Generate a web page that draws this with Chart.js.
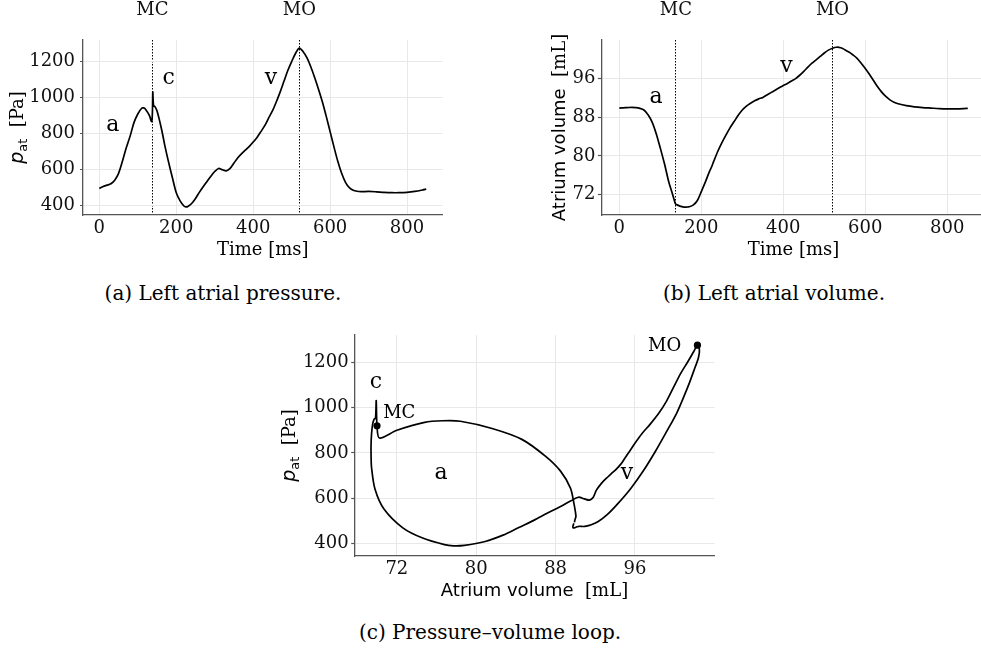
<!DOCTYPE html>
<html>
<head>
  <title>Left atrial pressure and volume</title>
  <script src="https://cdn.jsdelivr.net/npm/chart.js"></script>
  <style>
    body { margin: 0; width: 981px; height: 653px; overflow: hidden; background: #fff; position: relative; }
    canvas { position: absolute; }
    .cap { position: absolute; font-family: "DejaVu Serif"; font-size: 20px; line-height: 24px; color: #000; text-align: center; white-space: nowrap; }
  </style>
</head>
<body>
  <canvas id="pressureChart" width="460" height="275" style="left:0px;top:0px"></canvas>
  <canvas id="volumeChart" width="510" height="275" style="left:490px;top:0px"></canvas>
  <canvas id="loopChart" width="470" height="300" style="left:270px;top:320px"></canvas>
  <div class="cap" style="left:23px;width:400px;top:281px">(a) Left atrial pressure.</div>
  <div class="cap" style="left:574px;width:400px;top:281px">(b) Left atrial volume.</div>
  <div class="cap" style="left:290px;width:400px;top:620px">(c) Pressure–volume loop.</div>
  <script>
    // one cardiac cycle
    const time = [0, 10, 20, 30, 40, 50, 60, 70, 80, 90,
      100, 110, 115, 120, 130, 136, 138, 139, 141, 145,
      150, 155, 160, 165, 170, 180, 190, 200, 210, 220,
      225, 230, 240, 250, 260, 270, 280, 290, 300, 310,
      320, 330, 340, 350, 360, 370, 380, 390, 400, 410,
      420, 430, 440, 450, 460, 470, 480, 490, 500, 510,
      520, 530, 540, 550, 560, 570, 580, 590, 600, 610,
      620, 630, 640, 650, 660, 670, 680, 700, 720, 740,
      760, 780, 800, 820, 840, 850];
    const pressure = [494, 505, 512, 520, 540, 578, 645, 720, 785, 860,
      908, 940, 942, 935, 900, 866, 920, 1031, 955, 948,
      925, 885, 840, 790, 735, 640, 553, 470, 425, 396,
      391, 393, 410, 438, 472, 503, 533, 562, 588, 605,
      598, 592, 605, 635, 665, 688, 708, 728, 752, 778,
      810, 843, 885, 925, 975, 1030, 1090, 1150, 1200, 1245,
      1275, 1255, 1220, 1170, 1110, 1045, 975, 895, 810, 725,
      645, 578, 528, 498, 484, 478, 476, 477, 475, 472,
      470, 470, 472, 477, 485, 490];
    const volume = [89.9, 89.95, 90.0, 90.05, 90.0, 89.85, 89.5, 88.5, 87.0, 84.6,
      81.6, 78.4, 76.6, 74.8, 72.0, 70.25, 70.0, 69.92, 69.85, 69.7,
      69.55, 69.45, 69.4, 69.4, 69.45, 69.8, 70.7, 72.6, 74.6, 76.8,
      77.7, 78.8, 80.9, 82.7, 84.3, 85.8, 87.1, 88.4, 89.5, 90.3,
      90.9, 91.4, 91.8, 92.1, 92.6, 93.1, 93.6, 94.1, 94.6, 95.0,
      95.5, 96.0, 96.7, 97.5, 98.4, 99.2, 99.9, 100.6, 101.3, 101.9,
      102.3, 102.5, 102.4, 102.0, 101.5, 100.9, 100.2, 99.2, 98.1, 96.9,
      95.6, 94.3, 93.2, 92.3, 91.6, 91.1, 90.8, 90.4, 90.15, 90.0,
      89.9, 89.8, 89.75, 89.75, 89.8, 89.85];

    const timeTicks = [0, 200, 400, 600, 800];
    const pressureTicks = [400, 600, 800, 1000, 1200];
    const volumeTicks = [72, 80, 88, 96];
    const valveTimes = [138, 520];
    const valveLabels = ['MC', 'MO'];
    const timeRange = [-42.5, 892.5];
    const pressureRange = [346, 1320];
    const volumeRange = [67.75, 104];

    const serif = '"DejaVu Serif"';
    const sans = '"DejaVu Sans"';
    const gridColor = '#e8e8e8';
    const spineColor = '#555';

    // axis titles with mixed fonts and the a / c / v marks
    const notesPlugin = {
      id: 'notes',
      afterDatasetsDraw(chart, args, opts) {
        const ctx = chart.ctx, area = chart.chartArea;
        const xs = chart.scales.x, ys = chart.scales.y;
        ctx.save();
        ctx.fillStyle = '#000';
        (opts.marks || []).forEach(m => {
          ctx.font = m[3] + 'px ' + serif;
          ctx.textAlign = m[4] || 'center';
          ctx.textBaseline = 'middle';
          ctx.fillText(m[0], xs.getPixelForValue(m[1]), ys.getPixelForValue(m[2]));
        });
        (opts.titles || []).forEach(t => {
          let total = 0;
          t.parts.forEach(p => { ctx.font = p[1]; total += ctx.measureText(p[0]).width; });
          ctx.save();
          if (t.side === 'left') {
            ctx.translate(area.left - t.gap, (area.top + area.bottom) / 2);
            ctx.rotate(-Math.PI / 2);
          } else {
            ctx.translate((area.left + area.right) / 2, area.bottom + t.gap);
          }
          ctx.textAlign = 'left';
          ctx.textBaseline = 'alphabetic';
          let cx = -total / 2;
          t.parts.forEach(p => {
            ctx.font = p[1];
            ctx.fillText(p[0], cx, p[2]);
            cx += ctx.measureText(p[0]).width;
          });
          ctx.restore();
        });
        ctx.restore();
      }
    };

    function fixedTicks(values) {
      return s => { s.ticks = values.map(v => ({ value: v })); };
    }
    const plain = v => String(v);

    function valueAxis(range, ticks, width, tickLen, pad) {
      return {
        type: 'linear', min: range[0], max: range[1],
        afterBuildTicks: fixedTicks(ticks),
        afterFit: s => { s.width = width; },
        grid: { color: gridColor, lineWidth: 1, tickColor: spineColor, tickLength: tickLen, tickWidth: 1.2 },
        border: { color: spineColor, width: 1.3 },
        ticks: { font: { family: serif, size: 18 }, color: '#111', padding: pad, autoSkip: false, callback: plain }
      };
    }

    function bottomAxis(range, ticks, height) {
      return {
        type: 'linear', position: 'bottom', min: range[0], max: range[1],
        afterBuildTicks: fixedTicks(ticks),
        afterFit: s => { s.height = height; },
        grid: { color: gridColor, lineWidth: 1, drawTicks: false },
        border: { color: spineColor, width: 1.3 },
        ticks: { font: { family: serif, size: 18 }, color: '#111', padding: 3, autoSkip: false, callback: plain }
      };
    }

    function valveAxis() {
      return {
        type: 'linear', axis: 'x', position: 'top', min: timeRange[0], max: timeRange[1],
        afterBuildTicks: fixedTicks(valveTimes),
        afterFit: s => { s.height = 40; },
        grid: { color: '#000', lineWidth: 1, drawTicks: false },
        border: { display: false, dash: [1.5, 1.5] },
        ticks: { font: { family: serif, size: 18 }, color: '#111', padding: 19, autoSkip: false,
          callback: (v, i) => valveLabels[i] }
      };
    }

    const curve = {
      borderColor: '#000', borderWidth: 1.7, pointRadius: 0, fill: false,
      tension: 0.3, xAxisID: 'x', yAxisID: 'y'
    };

    const common = {
      animation: false, responsive: false, events: []
    };

    new Chart(document.getElementById('pressureChart'), {
      type: 'line',
      data: {
        datasets: [Object.assign({
          data: time.map((t, i) => ({ x: t, y: pressure[i] }))
        }, curve)]
      },
      options: Object.assign({
        layout: { padding: { left: 0, right: 17.4, top: 0, bottom: 0 } },
        plugins: {
          legend: { display: false }, tooltip: { enabled: false },
          notes: {
            marks: [['a', 35, 846, 22], ['c', 180, 1105, 22], ['v', 446, 1105, 22]],
            titles: [
              { side: 'left', gap: 60, parts: [['p', 'italic 19px ' + sans, 0], ['at', '13px ' + sans, 4], ['  [Pa]', '18px ' + serif, 0]] },
              { side: 'bottom', gap: 39.5, parts: [['Time [ms]', '18px ' + serif, 0]] }
            ]
          }
        },
        scales: {
          x: bottomAxis(timeRange, timeTicks, 60),
          x2: valveAxis(),
          y: valueAxis(pressureRange, pressureTicks, 83, 3, 5)
        }
      }, common),
      plugins: [notesPlugin]
    });

    new Chart(document.getElementById('volumeChart'), {
      type: 'line',
      data: {
        datasets: [Object.assign({
          data: time.map((t, i) => ({ x: t, y: volume[i] }))
        }, curve)]
      },
      options: Object.assign({
        layout: { padding: { left: 0, right: 14.8, top: 0, bottom: 0 } },
        plugins: {
          legend: { display: false }, tooltip: { enabled: false },
          notes: {
            marks: [['a', 89.5, 92.1, 22], ['v', 408, 98.5, 22]],
            titles: [
              { side: 'left', gap: 37, parts: [['Atrium volume', '18px ' + sans, 0], ['  [mL]', '18px ' + serif, 0]] },
              { side: 'bottom', gap: 39.5, parts: [['Time [ms]', '18px ' + serif, 0]] }
            ]
          }
        },
        scales: {
          x: bottomAxis(timeRange, timeTicks, 60),
          x2: valveAxis(),
          y: valueAxis(volumeRange, volumeTicks, 111.9, 4, 2.5)
        }
      }, common),
      plugins: [notesPlugin]
    });

    // pressure-volume loop, same samples; dots at valve closure / opening
    const valveIdx = valveTimes.map(t => time.indexOf(t));
    new Chart(document.getElementById('loopChart'), {
      type: 'scatter',
      data: {
        datasets: [
          {
            data: valveIdx.map(i => ({ x: volume[i], y: pressure[i] })),
            pointRadius: 3.6, backgroundColor: '#000', borderWidth: 0, showLine: false,
            xAxisID: 'x', yAxisID: 'y'
          },
          Object.assign({
            data: time.map((t, i) => ({ x: volume[i], y: pressure[i] })),
            showLine: true
          }, curve)
        ]
      },
      options: Object.assign({
        layout: { padding: { left: 0, right: 25.7, top: 15, bottom: 0 } },
        plugins: {
          legend: { display: false }, tooltip: { enabled: false },
          notes: {
            marks: [['c', 69.9, 1110, 22], ['a', 76.45, 709, 22], ['v', 95.2, 712, 22],
              ['MC', 70.62, 976, 18, 'left'], ['MO', 100.67, 1269, 18, 'right']],
            titles: [
              { side: 'left', gap: 60, parts: [['p', 'italic 19px ' + sans, 0], ['at', '13px ' + sans, 4], ['  [Pa]', '18px ' + serif, 0]] },
              { side: 'bottom', gap: 39.5, parts: [['Atrium volume', '18px ' + sans, 0], ['  [mL]', '18px ' + serif, 0]] }
            ]
          }
        },
        scales: {
          x: bottomAxis(volumeRange, volumeTicks, 64),
          y: valueAxis(pressureRange, pressureTicks, 84.7, 3.5, 2.5)
        }
      }, common),
      plugins: [notesPlugin]
    });
  </script>
</body>
</html>
